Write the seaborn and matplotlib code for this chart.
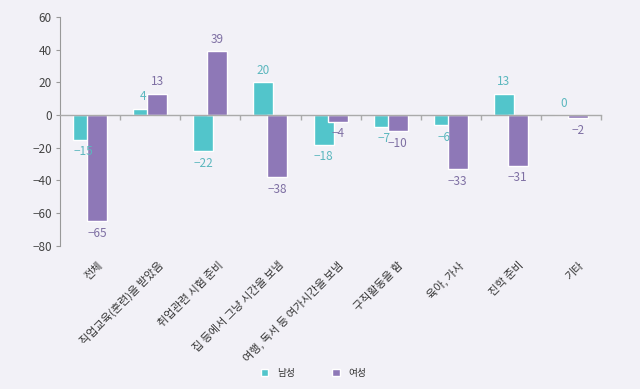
import numpy as np
import pandas as pd
import matplotlib
matplotlib.use("Agg")
import matplotlib.pyplot as plt
from matplotlib.transforms import ScaledTranslation
import seaborn as sns

categories = ["전체", "직업교육(훈련)을 받았음", "취업관련 시험 준비", "집 등에서 그냥 시간을 보냄",
              "여행, 독서 등 여가시간을 보냄", "구직활동을 함", "육아, 가사", "진학 준비", "기타"]
men = [-15, 4, -22, 20, -18, -7, -6, 13, 0]
women = [-65, 13, 39, -38, -4, -10, -33, -31, -2]
series = ["남성", "여성"]
y_ticks = [-80, -60, -40, -20, 0, 20, 40, 60]

BG = "#f2f1f7"
TEAL = "#52c5cb"
PURPLE = "#8e78b7"

sns.set_style("white")
plt.rcParams["font.family"] = ["Noto Sans CJK KR", "DejaVu Sans"]
plt.rcParams["axes.unicode_minus"] = True

df = pd.DataFrame({
    "cat": categories * 2,
    "val": men + women,
    "sex": [series[0]] * len(men) + [series[1]] * len(women),
})

fig = plt.figure(figsize=(6.4, 3.89), dpi=100, facecolor=BG)
ax = fig.add_axes([0.094, 0.368, 0.845, 0.588])
ax.set_facecolor(BG)

sns.barplot(data=df, x="cat", y="val", hue="sex", order=categories,
            hue_order=series, palette={series[0]: TEAL, series[1]: PURPLE},
            width=0.4667, dodge=True, saturation=1, ax=ax, legend=True)

# widen bars so that they overlap a little, like the original
for cont in ax.containers:
    for bar in cont:
        c = bar.get_x() + bar.get_width() / 2
        bar.set_width(1 / 3)
        bar.set_x(c - 1 / 6)

lab_cols = ["#5bb7be", "#7e6fa3"]
for k, (cont, vals) in enumerate(zip(ax.containers, [men, women])):
    labels = [f"{v}".replace("-", "\u2212") for v in vals]
    ax.bar_label(cont, labels=labels, padding=4, fontsize=8.5, color=lab_cols[k])

ax.set_ylim(-80, 60)
ax.set_xlim(-0.5, len(categories) - 0.5)
ax.set_yticks(y_ticks)
ax.set_xlabel("")
ax.set_ylabel("")

for s in ["top", "right"]:
    ax.spines[s].set_visible(False)
ax.spines["left"].set_color("#999999")
ax.spines["left"].set_linewidth(0.8)
ax.spines["bottom"].set_position(("data", 0))
ax.spines["bottom"].set_color("#aaaaaa")
ax.spines["bottom"].set_linewidth(1.0)

ax.tick_params(axis="y", left=True, direction="out", length=3, width=0.8,
               color="#999999", labelsize=8.5, labelcolor="#444444", pad=3)
ax.set_xticks(np.arange(len(categories)))
ax.set_xticks(np.arange(len(categories)) + 0.5, minor=True)
ax.tick_params(axis="x", which="minor", bottom=True, direction="out", length=3.5,
               width=1, color="#aaaaaa")
ax.tick_params(axis="x", which="major", bottom=True, length=0, pad=107,
               labelsize=8, labelcolor="#333333")
ax.set_xticklabels(categories, rotation=45, ha="right", va="center",
                   rotation_mode="anchor")
for lab in ax.get_xticklabels():
    lab.set_transform(lab.get_transform() + ScaledTranslation(8 / 72, 0, fig.dpi_scale_trans))

leg = ax.legend(loc="center", bbox_to_anchor=(0.49, 0.041), bbox_transform=fig.transFigure,
                ncol=2, frameon=False, fontsize=7, handlelength=0.8, handleheight=0.8,
                columnspacing=3.8, handletextpad=0.9)
for t in leg.get_texts():
    t.set_color("#333333")

fig.savefig("out.png", dpi=100, facecolor=BG)
